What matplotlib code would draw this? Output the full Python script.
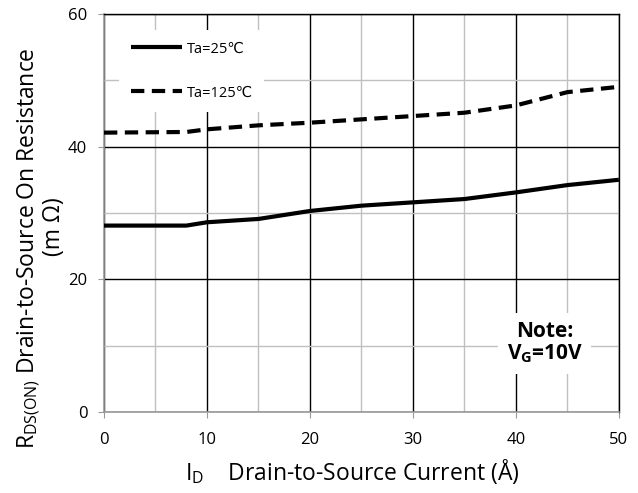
import numpy as np
import matplotlib
matplotlib.use("Agg")
import matplotlib.pyplot as plt
from matplotlib.ticker import MultipleLocator

plt.rcParams['font.family'] = ['Open Sans', 'DejaVu Sans']
plt.rcParams['mathtext.fontset'] = 'custom'
plt.rcParams['mathtext.rm'] = 'Open Sans'
plt.rcParams['mathtext.it'] = 'Open Sans'
plt.rcParams['mathtext.bf'] = 'Open Sans:bold'

# datos
x = [0, 8, 10, 15, 20, 25, 30, 35, 40, 45, 50]
r25 = [28.1, 28.1, 28.6, 29.1, 30.3, 31.1, 31.6, 32.1, 33.1, 34.2, 35.0]
r125 = [42.1, 42.2, 42.6, 43.2, 43.6, 44.1, 44.6, 45.1, 46.2, 48.2, 49.0]
labels = ["Ta=25℃", "Ta=125℃"]

fig = plt.figure(figsize=(6.38, 4.93), dpi=100)
ax = fig.add_axes([0.163, 0.164, 0.807, 0.808])

ax.set_xlim(0, 50)
ax.set_ylim(0, 60)
ax.xaxis.set_major_locator(MultipleLocator(10))
ax.yaxis.set_major_locator(MultipleLocator(20))
ax.xaxis.set_minor_locator(MultipleLocator(5))
ax.yaxis.set_minor_locator(MultipleLocator(10))
ax.grid(which='major', color='black', lw=1.0, zorder=1)
ax.grid(which='minor', color='#c0c0c0', lw=1.0, zorder=0)
ax.set_axisbelow(True)
ax.tick_params(which='minor', length=0)
ax.tick_params(which='major', length=4, color='#999999', labelsize=12)
ax.tick_params(axis='x', pad=10)
ax.tick_params(axis='y', pad=8)
for s in ['left', 'bottom']:
    ax.spines[s].set_color('#999999')
    ax.spines[s].set_linewidth(1.2)
for s in ['top', 'right']:
    ax.spines[s].set_color('black')
    ax.spines[s].set_linewidth(1.0)

l1, = ax.plot(x, r25, color='black', lw=3, solid_capstyle='butt', zorder=3)
l2, = ax.plot(x, r125, color='black', lw=3, dashes=(3.2, 1.8), zorder=3)

leg = ax.legend([l1, l2], labels, loc='upper left', bbox_to_anchor=(0.03, 0.96),
                fontsize=10.5, handlelength=3.5, handletextpad=0.3,
                labelspacing=2.0, frameon=True, fancybox=False,
                borderpad=0.8, borderaxespad=0)
leg.get_frame().set_facecolor('white')
leg.get_frame().set_edgecolor('none')
leg.get_frame().set_alpha(1)
leg.set_zorder(5)

ax.text(42.8, 10.4, "Note:\nV$_\\mathbf{G}$=10V", ha='center', va='center',
        fontsize=15, fontweight='bold', linespacing=1.05,
        bbox=dict(facecolor='white', edgecolor='none', pad=6), zorder=5)

ax.set_xlabel("I$_\\mathrm{D}$    Drain-to-Source Current (Å)", fontsize=16.5)
ax.xaxis.set_label_coords(0.482, -0.112)
ax.set_ylabel("R$_\\mathrm{DS(ON)}$ Drain-to-Source On Resistance", fontsize=16.5)
ax.yaxis.set_label_coords(-0.118, 0.412)
ax.text(-0.098, 0.465, "(m Ω)", transform=ax.transAxes, rotation=90,
        ha='center', va='center', fontsize=16.5, clip_on=False)

plt.savefig('out.png', dpi=100)
